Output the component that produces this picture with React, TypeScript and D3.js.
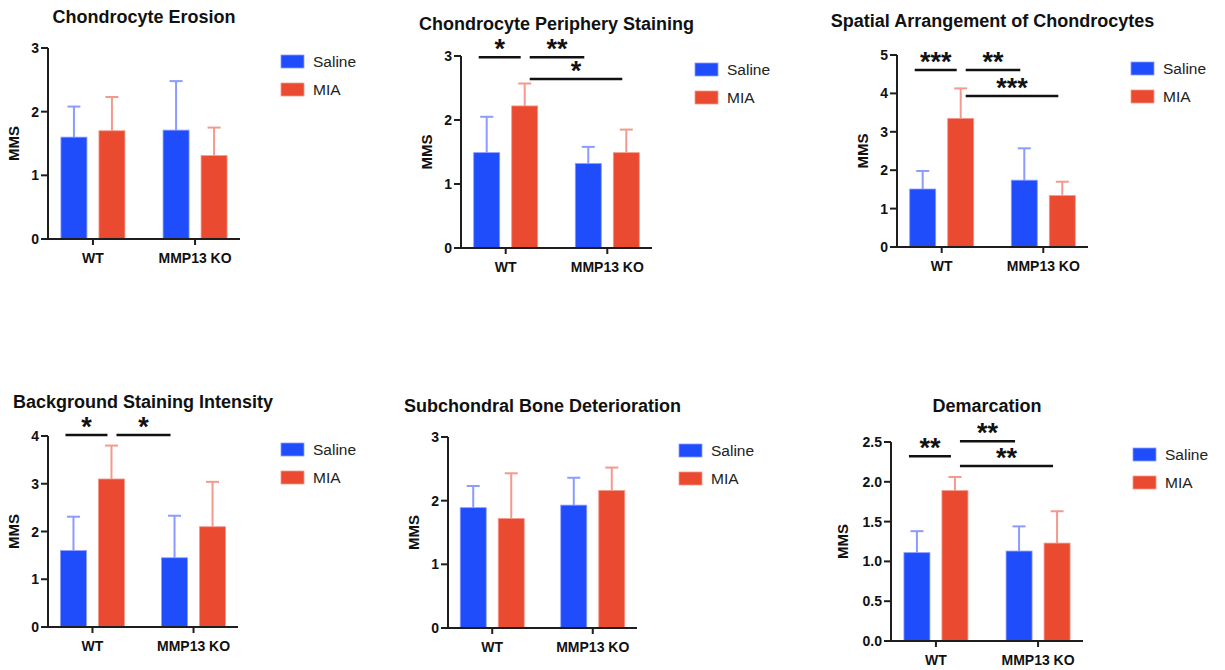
import React from "react";
import * as d3 from "d3";

// ---------- data ----------
const groups = ["WT", "MMP13 KO"];
const seriesNames = ["Saline", "MIA"];
const seriesColors = ["#1f4dfc", "#ea4a30"];
const errorColors = ["#8b9bff", "#f4998c"];

const titles = [
  "Chondrocyte Erosion",
  "Chondrocyte Periphery Staining",
  "Spatial Arrangement of Chondrocytes",
  "Background Staining Intensity",
  "Subchondral Bone Deterioration",
  "Demarcation",
];
const yMax = [3, 3, 5, 4, 3, 2.5];
const yTickStep = [1, 1, 1, 1, 1, 0.5];
const yTickFormat = ["d", "d", "d", "d", "d", ".1f"];

// means [panel][group]
const salineMean = [
  [1.6, 1.71],
  [1.49, 1.32],
  [1.51, 1.74],
  [1.6, 1.45],
  [1.89, 1.93],
  [1.11, 1.13],
];
const salineErr = [
  [0.48, 0.77],
  [0.56, 0.26],
  [0.47, 0.83],
  [0.71, 0.88],
  [0.34, 0.43],
  [0.27, 0.31],
];
const miaMean = [
  [1.7, 1.31],
  [2.22, 1.49],
  [3.35, 1.34],
  [3.1, 2.1],
  [1.72, 2.16],
  [1.89, 1.23],
];
const miaErr = [
  [0.53, 0.44],
  [0.35, 0.36],
  [0.78, 0.36],
  [0.7, 0.94],
  [0.71, 0.36],
  [0.17, 0.4],
];

// significance: [panel, fromGroup, fromSeries, toGroup, toSeries, yValue, label]
const significance: [number, number, number, number, number, number, string][] = [
  [1, 0, 0, 0, 1, 2.98, "*"],
  [1, 0, 1, 1, 0, 2.98, "**"],
  [1, 0, 1, 1, 1, 2.64, "*"],
  [2, 0, 0, 0, 1, 4.61, "***"],
  [2, 0, 1, 1, 0, 4.61, "**"],
  [2, 0, 1, 1, 1, 3.93, "***"],
  [3, 0, 0, 0, 1, 4.02, "*"],
  [3, 0, 1, 1, 0, 4.02, "*"],
  [5, 0, 0, 0, 1, 2.32, "**"],
  [5, 0, 1, 1, 0, 2.51, "**"],
  [5, 0, 1, 1, 1, 2.2, "**"],
];

// ---------- layout ----------
const layout = [
  { left: 48, top: 48, w: 192, h: 191, titleY: 23, lx: 281, ly: 55, yl: 34 },
  { left: 461, top: 56, w: 191, h: 192, titleY: 30, lx: 695, ly: 63, yl: 34 },
  { left: 897, top: 55, w: 191, h: 192, titleY: 27, lx: 1131, ly: 62, yl: 34 },
  { left: 48, top: 436, w: 190, h: 191, titleY: 408, lx: 281, ly: 443, yl: 34 },
  { left: 448, top: 437, w: 189, h: 191, titleY: 412, lx: 679, ly: 444, yl: 34 },
  { left: 891, top: 442, w: 192, h: 199, titleY: 412, lx: 1133, ly: 448, yl: 48 },
];

const FONT = "'Liberation Sans', Arial, Helvetica, sans-serif";
const AXIS = "#1e1e1e";

function Panel({ i }: { i: number }) {
  const L = layout[i];
  const x0 = L.left;
  const y0 = L.top + L.h;
  const y = d3.scaleLinear().domain([0, yMax[i]]).range([y0, L.top]);
  const xg = d3.scalePoint<string>().domain(groups).range([x0, x0 + L.w]).padding(0.44);
  const xs = d3.scaleBand<string>().domain(seriesNames).range([-32, 32]).paddingInner(0.316).paddingOuter(0);
  const bw = xs.bandwidth();
  const means = [salineMean[i], miaMean[i]];
  const errs = [salineErr[i], miaErr[i]];
  const ticks = d3.range(0, yMax[i] + 1e-9, yTickStep[i]);
  const fmt = d3.format(yTickFormat[i]);
  const center = (g: number, s: number) => (xg(groups[g]) as number) + (xs(seriesNames[s]) as number) + bw / 2;
  const sigs = significance.filter((d) => d[0] === i);

  return (
    <g>
      <text
        x={x0 + L.w / 2}
        y={L.titleY}
        textAnchor="middle"
        fontFamily={FONT}
        fontWeight="bold"
        fontSize={18}
        fill="#111"
      >
        {titles[i]}
      </text>
      {/* bars */}
      {groups.map((g, gi) =>
        seriesNames.map((s, si) => {
          const cx = center(gi, si);
          const m = means[si][gi];
          const e = errs[si][gi];
          return (
            <g key={g + s}>
              <line
                x1={cx}
                x2={cx}
                y1={y(m)}
                y2={y(m + e)}
                stroke={errorColors[si]}
                strokeWidth={2}
              />
              <line
                x1={cx - 6.5}
                x2={cx + 6.5}
                y1={y(m + e)}
                y2={y(m + e)}
                stroke={errorColors[si]}
                strokeWidth={2}
              />
              <rect
                x={cx - bw / 2}
                y={y(m)}
                width={bw}
                height={y0 - y(m)}
                fill={seriesColors[si]}
                stroke={errorColors[si]}
                strokeWidth={0.8}
              />
            </g>
          );
        })
      )}
      {/* axes */}
      <line x1={x0} x2={x0} y1={y0} y2={L.top} stroke={AXIS} strokeWidth={2} />
      <line x1={x0 - 1} x2={x0 + L.w} y1={y0} y2={y0} stroke={AXIS} strokeWidth={2} />
      {ticks.map((t) => (
        <g key={t}>
          <line x1={x0 - 7} x2={x0} y1={y(t)} y2={y(t)} stroke={AXIS} strokeWidth={2} />
          <text
            x={x0 - 9}
            y={y(t)}
            dy="0.36em"
            textAnchor="end"
            fontFamily={FONT}
            fontWeight="bold"
            fontSize={14}
            fill="#111"
          >
            {fmt(t)}
          </text>
        </g>
      ))}
      {groups.map((g) => (
        <g key={g}>
          <line x1={xg(g)} x2={xg(g)} y1={y0} y2={y0 + 6} stroke={AXIS} strokeWidth={2} />
          <text
            x={xg(g)}
            y={y0 + 24}
            textAnchor="middle"
            fontFamily={FONT}
            fontWeight="bold"
            fontSize={14}
            fill="#111"
          >
            {g}
          </text>
        </g>
      ))}
      <text
        transform={`translate(${x0 - L.yl},${(y0 + L.top) / 2}) rotate(-90)`}
        textAnchor="middle"
        dy="0.36em"
        fontFamily={FONT}
        fontWeight="bold"
        fontSize={15}
        fill="#111"
      >
        MMS
      </text>
      {/* significance */}
      {sigs.map((d, k) => {
        const [, ga, sa, gb, sb, v, label] = d;
        const xa = center(ga, sa) + (ga === 0 && sa === 0 ? -8 : 5);
        const xb = center(gb, sb) - 4;
        const yy = y(v);
        return (
          <g key={k}>
            <line x1={xa} x2={xb} y1={yy} y2={yy} stroke="#111" strokeWidth={2.5} />
            <text
              x={(xa + xb) / 2}
              y={yy + 1}
              textAnchor="middle"
              fontFamily={FONT}
              fontWeight="bold"
              fontSize={27}
              fill="#111"
            >
              {label}
            </text>
          </g>
        );
      })}
      {/* legend */}
      {seriesNames.map((s, si) => (
        <g key={s} transform={`translate(${L.lx},${L.ly + si * 28})`}>
          <rect width={23} height={13} fill={seriesColors[si]} stroke={errorColors[si]} strokeWidth={0.8} />
          <text x={32} y={6.5} dy="0.36em" fontFamily={FONT} fontSize={15.5} fill="#222">
            {s}
          </text>
        </g>
      ))}
    </g>
  );
}

export default function App() {
  return (
    <svg
      width={1225}
      height={670}
      style={{ position: "absolute", left: 0, top: 0, background: "#fff" }}
    >
      <rect width={1225} height={670} fill="#fff" />
      {titles.map((_, i) => (
        <Panel key={i} i={i} />
      ))}
    </svg>
  );
}
